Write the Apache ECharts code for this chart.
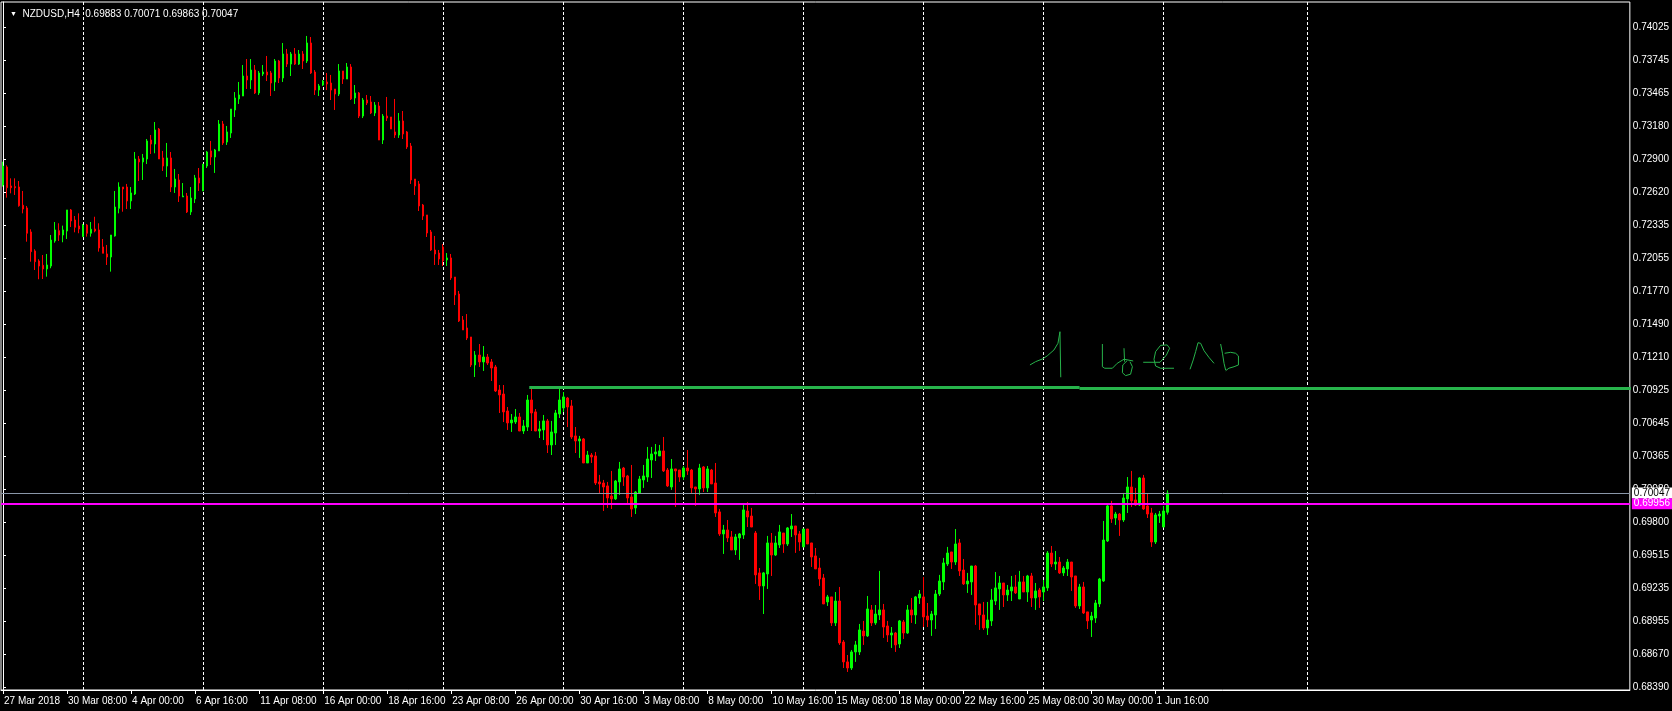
<!DOCTYPE html>
<html><head><meta charset="utf-8">
<script src="https://cdn.jsdelivr.net/npm/echarts@6/dist/echarts.min.js"></script>
<style>html,body{margin:0;padding:0;background:#000;}#c{width:1672px;height:711px;}</style>
</head><body><div id="c"></div>
<script>
// ---------- DATA (prices in points, 1 point = 0.00001) ----------
const symbolTitle = 'NZDUSD,H4';
const headerValues = ['0.69883', '0.70071', '0.69863', '0.70047'];
const firstBarTime = Date.UTC(2018, 2, 27, 16); // 27 Mar 2018 16:00, H4 bars, weekends skipped

const openPts = [72678,72832,72670,72664,72661,72505,72482,72277,72115,72029,71992,71961,71986,72200,72288,72251,72285,72465,72379,72328,
72237,72336,72266,72302,72294,72149,72089,72063,72243,72479,72661,72661,72542,72601,72900,72875,72900,73062,73028,73156,
72909,72840,72909,72661,72721,72576,72584,72448,72559,72738,72627,72840,72969,72917,72969,73199,73045,73122,73319,73413,
73438,73609,73575,73660,73464,73626,73643,73635,73558,73737,73592,73797,73711,73797,73711,73797,73737,73891,73643,73489,
73532,73558,73549,73498,73455,73652,73583,73686,73421,73464,73267,73404,73387,73293,73353,73062,73267,73259,73131,73105,
73225,73131,73011,72729,72687,72507,72422,72277,72123,72097,72149,72038,72055,71892,71747,71525,71457,71380,71141,71226,
71167,71209,71167,71124,70927,70893,70748,70646,70654,70697,70577,70611,70842,70740,70577,70586,70663,70458,70560,70722,
70774,70859,70791,70535,70492,70509,70304,70372,70364,70142,70133,70108,70022,69997,70142,70261,70193,70014,69920,70048,
70159,70184,70330,70381,70364,70407,70244,70099,70253,70244,70184,70261,70244,70099,70082,70270,70091,70244,70133,69886,
69698,69732,69672,69561,69664,69689,69894,69851,69706,69365,69254,69356,69621,69518,69604,69706,69612,69740,69766,69698,
69587,69740,69621,69510,69407,69322,69117,69160,68938,69125,68775,68605,68553,68690,68690,68869,68827,69049,68938,69006,
69049,68912,68835,68852,68758,68946,68852,69049,69006,69151,69160,68997,68963,69006,69185,69288,69441,69544,69458,69621,
69390,69271,69288,69424,69100,69006,68895,68955,69125,69228,69279,69177,69211,69245,69142,69288,69202,69339,69151,69219,
69202,69237,69535,69441,69458,69365,69399,69458,69339,69083,69245,69032,68963,68980,69100,69296,69638,69937,69834,69868,
69817,69997,70099,69988,69945,70176,69937,69877,69629,69851,69757,69883];

const highPts = [72877,72846,72735,72735,72712,72627,72499,72300,72129,72044,72080,72089,72251,72362,72351,72331,72465,72473,72413,72436,
72345,72345,72362,72407,72351,72217,72166,72251,72627,72701,72661,72687,72661,72960,72926,72943,73071,73105,73216,73165,
72969,73037,72960,72815,72772,72695,72610,72661,72764,72823,72857,72969,73054,72986,73233,73225,73182,73327,73472,73558,
73703,73754,73754,73703,73652,73703,73780,73652,73754,73746,73891,73840,73814,73848,73831,73822,73951,73942,73660,73541,
73575,73635,73618,73498,73711,73652,73720,73711,73532,73472,73421,73447,73438,73387,73387,73284,73430,73259,73413,73293,
73310,73139,73037,72729,72712,72516,72422,72294,72243,72123,72174,72097,72089,71892,71773,71559,71576,71380,71260,71320,
71303,71235,71192,71141,70970,70970,70782,70722,70765,70731,70671,70885,70945,70765,70663,70714,70680,70663,70757,70936,
70910,70868,70842,70611,70535,70517,70407,70389,70398,70202,70159,70142,70236,70159,70313,70270,70202,70287,70065,70193,
70287,70441,70441,70466,70458,70526,70261,70338,70253,70244,70278,70415,70253,70099,70296,70278,70278,70253,70304,69911,
69775,69817,69723,69698,69706,69945,69971,69920,69723,69407,69373,69681,69706,69681,69775,69706,69757,69868,69766,69723,
69740,69740,69621,69578,69493,69356,69177,69160,69202,69245,68792,68664,68707,68784,68929,68955,69168,69091,69091,69382,
69100,68955,68903,68861,68963,68963,69091,69151,69168,69219,69330,69108,69040,69219,69348,69493,69587,69544,69740,69655,
69484,69365,69424,69433,69100,69117,69117,69228,69373,69339,69279,69262,69339,69348,69382,69339,69348,69365,69279,69237,
69305,69552,69595,69552,69501,69424,69484,69458,69339,69271,69288,69032,69032,69134,69322,69809,69945,69980,69886,69877,
70048,70184,70236,70091,70184,70202,70039,69920,69877,69894,69937,70071];

const lowPts = [72664,72570,72607,72593,72493,72436,72194,72023,71952,71873,71875,71895,71967,72185,72200,72189,72217,72319,72274,72266,
72237,72237,72237,72274,72109,72095,71995,71938,72237,72436,72450,72473,72473,72593,72712,72721,72857,72943,72949,72900,
72798,72746,72618,72610,72533,72576,72439,72422,72524,72627,72627,72823,72849,72781,72969,73020,73020,73080,73259,73370,
73438,73498,73498,73455,73447,73609,73566,73438,73481,73549,73558,73686,73609,73703,73703,73669,73720,73626,73447,73438,
73524,73489,73404,73319,73438,73541,73583,73404,73370,73250,73250,73361,73284,73267,73062,73028,73225,73156,73080,73080,
73071,72986,72687,72593,72456,72379,72234,72115,71995,71995,71986,71986,71867,71653,71508,71440,71354,71124,71038,71124,
71090,71141,71004,70910,70731,70654,70586,70569,70637,70577,70552,70577,70577,70577,70517,70500,70389,70372,70458,70688,
70740,70611,70509,70389,70347,70304,70304,70304,70116,70048,69894,69920,69911,69988,70031,70108,69962,69843,69868,70048,
70091,70142,70176,70321,70364,70227,70099,70074,69928,70142,70159,70202,70048,69937,70031,70056,70056,70125,69843,69681,
69527,69629,69561,69518,69476,69655,69757,69757,69271,69134,69014,69228,69339,69510,69578,69536,69595,69672,69536,69553,
69587,69612,69416,69399,69254,69100,69083,68912,68912,68750,68553,68519,68536,68605,68664,68750,68818,68912,68921,68963,
68810,68775,68724,68690,68724,68801,68844,68938,68929,69100,68903,68903,68827,68886,69168,69219,69424,69399,69433,69339,
69262,69194,69177,68921,68878,68878,68835,68912,69091,69049,69074,69125,69125,69185,69142,69202,69117,69074,69049,69066,
69125,69211,69416,69390,69356,69339,69339,69211,69066,69057,69014,68886,68818,68938,69074,69288,69629,69792,69775,69681,
69800,69877,69928,69937,69937,69903,69834,69587,69612,69792,69757,69863];

const closePts = [72840,72655,72655,72655,72501,72473,72266,72109,72023,71986,71961,71995,72208,72294,72251,72294,72465,72371,72317,72302,
72336,72266,72300,72285,72140,72095,72063,72251,72490,72661,72644,72542,72610,72900,72875,72909,73054,73028,73148,72900,
72840,72909,72661,72729,72584,72584,72448,72567,72738,72695,72857,72960,72917,72977,73199,73037,73131,73327,73421,73447,
73609,73575,73660,73464,73635,73643,73618,73549,73737,73592,73797,73711,73797,73711,73797,73737,73891,73635,73489,73524,
73566,73541,73489,73455,73652,73583,73686,73413,73464,73267,73404,73378,73293,73361,73062,73267,73250,73156,73105,73225,
73114,73003,72721,72670,72499,72413,72268,72123,72089,72046,72029,72055,71884,71739,71517,71440,71371,71141,71226,71167,
71209,71158,71115,70919,70885,70740,70646,70671,70697,70577,70620,70842,70731,70577,70594,70663,70458,70569,70731,70842,
70868,70782,70526,70492,70509,70304,70372,70355,70133,70125,70099,70005,69997,70150,70253,70184,70005,69911,70056,70167,
70193,70338,70381,70398,70407,70236,70108,70253,70236,70184,70261,70236,70091,70082,70261,70091,70253,70125,69877,69698,
69732,69664,69561,69672,69698,69903,69843,69757,69348,69254,69365,69621,69518,69621,69715,69612,69749,69766,69689,69629,
69740,69612,69501,69399,69313,69100,69160,68938,69125,68767,68605,68553,68690,68750,68878,68827,69057,68938,69014,69049,
68903,68835,68852,68750,68955,68852,69049,69006,69160,69185,68989,68963,69014,69185,69296,69450,69535,69458,69612,69382,
69271,69296,69424,69091,69006,68895,68963,69134,69237,69279,69177,69219,69245,69194,69288,69202,69339,69151,69211,69160,
69245,69535,69441,69458,69365,69407,69458,69330,69083,69245,69023,68955,68997,69108,69313,69646,69937,69826,69868,69817,
70005,70099,69980,69945,70176,69911,69868,69629,69860,69868,69894,70047];

const xTickLabels = ['27 Mar 2018','30 Mar 08:00','4 Apr 00:00','6 Apr 16:00','11 Apr 08:00','16 Apr 00:00','18 Apr 16:00',
  '23 Apr 08:00','26 Apr 00:00','30 Apr 16:00','3 May 08:00','8 May 00:00','10 May 16:00','15 May 08:00','18 May 00:00',
  '22 May 16:00','25 May 08:00','30 May 00:00','1 Jun 16:00'];
const yTickValues = [0.74025,0.73745,0.73465,0.73180,0.72900,0.72620,0.72335,0.72055,0.71770,0.71490,0.71210,
  0.70925,0.70645,0.70365,0.70080,0.69800,0.69515,0.69235,0.68955,0.68670,0.68390];
const weekSeparatorBars = [20,50,80,110,140,170,200,230,260,290,326];
const bidPrice = 0.70047;
const alertPrice = 0.69956;
const resistanceLeft = [[131.5,0.70949],[269,0.70949]];
const resistanceRight = [[269,0.70939],[406.75,0.70939]];
const handStrokes = [
  [[256.6,0.71141],[258.0,0.71169],[259.7,0.71192],[260.9,0.71218],[262.6,0.71269],[263.6,0.71326],[264.1,0.71425],[264.3,0.71440],[264.3,0.71036]],
  [[274.7,0.71320],[274.7,0.71126],[275.3,0.71113],[277.2,0.71113],[278.4,0.71155],[280.1,0.71190],[282.4,0.71175]],
  [[280.1,0.71284],[280.25,0.71169]],
  [[280.9,0.71178],[279.8,0.71141],[279.7,0.71075],[280.5,0.71050],[281.75,0.71062],[282.2,0.71126],[281.6,0.71169]],
  [[284.9,0.71164],[289.1,0.71164],[290.7,0.71226],[291.5,0.71284],[290.9,0.71312],[289.25,0.71309],[288.0,0.71255],[287.6,0.71190],[288.0,0.71132],[289.25,0.71113],[292.6,0.71113]],
  [[296.6,0.71104],[297.4,0.71184],[298.0,0.71255],[298.6,0.71331],[299.25,0.71326],[300.1,0.71263],[301.3,0.71207],[302.6,0.71155]],
  [[304.25,0.71320],[304.7,0.71241],[305.1,0.71155],[305.5,0.71098]],
  [[305.25,0.71241],[306.75,0.71249],[308.0,0.71241],[308.7,0.71218],[308.7,0.71141],[307.6,0.71126],[306.3,0.71113],[305.5,0.71092]]
];

// ---------- BUILD ----------
const TOTAL_SLOTS = 407;
const PT = 1e-5;
const MON = ['Jan','Feb','Mar','Apr','May','Jun','Jul','Aug','Sep','Oct','Nov','Dec'];
const categories = [];
let t = firstBarTime;
while (categories.length < openPts.length) {
  const d = new Date(t);
  const wd = d.getUTCDay();
  if (wd !== 0 && wd !== 6) {
    categories.push(d.getUTCDate() + ' ' + MON[d.getUTCMonth()] + ' ' + String(d.getUTCHours()).padStart(2,'0') + ':00');
  }
  t += 4 * 3600 * 1000;
}
while (categories.length < TOTAL_SLOTS) categories.push('');

const candleData = openPts.map((o, i) => [o * PT, closePts[i] * PT, lowPts[i] * PT, highPts[i] * PT]);
const isTick = (idx) => idx % 16 === 0 && idx / 16 < xTickLabels.length;
const FONT = '"Liberation Sans", Arial, sans-serif';
const GREEN_PEN = '#27b34b';

const priceLabel = (txt, fg, bg) => ({
  show: true, position: 'end', distance: 2, formatter: txt, color: fg,
  backgroundColor: bg, padding: [1, 3, 0, 2], fontSize: 10, fontFamily: FONT, lineHeight: 10
});

const series = [
  {
    type: 'line', xAxisIndex: 1, data: [], silent: true, z: 1,
    markLine: {
      silent: true, symbol: 'none', z: 1, animation: false, precision: 5,
      label: { show: false },
      lineStyle: { color: '#ffffff', type: [3, 2], width: 1 },
      data: weekSeparatorBars.map(b => ({ xAxis: b }))
    }
  },
  {
    type: 'candlestick', xAxisIndex: 0, data: candleData, barWidth: 2, z: 2,
    itemStyle: {
      color: '#00ff00', color0: '#ff0000',
      borderColor: '#00ff00', borderColor0: '#ff0000', borderColorDoji: '#00ff00', borderWidth: 1
    }
  },
  {
    type: 'line', xAxisIndex: 1, data: [], silent: true, z: 6,
    markLine: {
      silent: true, symbol: 'none', z: 6, animation: false, precision: 5,
      data: [
        { yAxis: bidPrice, lineStyle: { color: '#8a97a8', width: 1, type: 'solid' },
          label: priceLabel(bidPrice.toFixed(5), '#000000', '#ffffff') }
      ]
    }
  },
  {
    type: 'line', xAxisIndex: 1, data: [], silent: true, z: 6,
    markLine: {
      silent: true, symbol: 'none', z: 6, animation: false, precision: 5,
      data: [
        { yAxis: alertPrice, lineStyle: { color: '#ff00ff', width: 2, type: 'solid' },
          label: priceLabel(alertPrice.toFixed(5), '#ffffff', '#ff00ff') }
      ]
    }
  },
  { type: 'line', xAxisIndex: 1, data: resistanceLeft, symbol: 'none', silent: true, z: 7,
    lineStyle: { color: GREEN_PEN, width: 3 } },
  { type: 'line', xAxisIndex: 1, data: resistanceRight, symbol: 'none', silent: true, z: 7,
    lineStyle: { color: GREEN_PEN, width: 3 } }
];
handStrokes.forEach(s => series.push({
  type: 'line', xAxisIndex: 1, data: s, symbol: 'none', silent: true, z: 7, smooth: false,
  lineStyle: { color: GREEN_PEN, width: 1 }
}));

const chart = echarts.init(document.getElementById('c'), null, { renderer: 'canvas' });
chart.setOption({
  backgroundColor: '#000000',
  animation: false,
  title: {
    left: 5, top: 4,
    text: '{tri|▼}  ' + symbolTitle + '  ' + headerValues.join(' '),
    textStyle: { color: '#ffffff', fontSize: 10, fontWeight: 'normal', fontFamily: FONT,
      rich: { tri: { fontSize: 7, color: '#ffffff' } } }
  },
  grid: { left: 1, right: 42, top: 2, bottom: 21, show: true, borderColor: '#ffffff', borderWidth: 1, backgroundColor: 'transparent' },
  xAxis: [
    {
      type: 'category', data: categories, boundaryGap: true,
      axisLine: { show: true, lineStyle: { color: '#ffffff', width: 1 } },
      axisTick: { show: true, alignWithLabel: true, length: 4, interval: (idx) => isTick(idx), lineStyle: { color: '#ffffff' } },
      axisLabel: { show: true, interval: (idx) => isTick(idx), formatter: (v, idx) => xTickLabels[idx / 16],
        align: 'left', color: '#ffffff', fontSize: 10, fontFamily: FONT, margin: 6, padding: [0, 0, 0, 1], hideOverlap: false },
      splitLine: { show: false }
    },
    { type: 'value', min: -0.5, max: TOTAL_SLOTS - 0.5, show: false }
  ],
  yAxis: {
    type: 'value', position: 'right', min: 0.68365, max: 0.74241, scale: true,
    axisLine: { show: true, lineStyle: { color: '#ffffff' } },
    axisTick: { show: true, length: 3, customValues: yTickValues, lineStyle: { color: '#ffffff' } },
    axisLabel: { show: true, customValues: yTickValues, formatter: (v) => Number(v).toFixed(5),
      color: '#ffffff', fontSize: 10, fontFamily: FONT, margin: 3 },
    splitLine: { show: false }
  },
  series: series
});
</script>
</body></html>
